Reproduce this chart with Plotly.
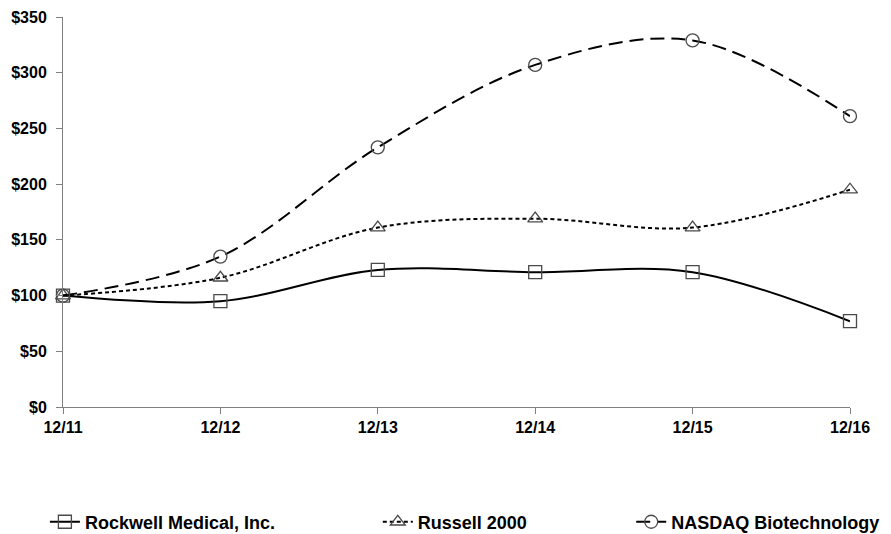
import plotly.graph_objects as go

categories = ["12/11", "12/12", "12/13", "12/14", "12/15", "12/16"]
rockwell = [100, 95, 123, 121, 121, 77]
russell = [100, 116, 161, 169, 161, 195]
nasdaq = [100, 135, 233, 307, 329, 261]
y_ticks = [0, 50, 100, 150, 200, 250, 300, 350]
y_tick_labels = ["$0", "$50", "$100", "$150", "$200", "$250", "$300", "$350"]

x_pos = list(range(len(categories)))
FONT = "Liberation Sans, Arial, sans-serif"

fig = go.Figure()
series = [
    ("Rockwell Medical, Inc.", rockwell, "solid", "square-open", "legend"),
    ("Russell 2000", russell, "4px,3px", "triangle-up-open", "legend2"),
    ("NASDAQ Biotechnology", nasdaq, "14px,7px", "circle-open", "legend3"),
]
for name, vals, dash, sym, leg in series:
    fig.add_trace(go.Scatter(
        x=x_pos, y=vals, name=name, mode="lines+markers",
        line=dict(color="#000000", width=2, dash=dash, shape="spline", smoothing=1),
        marker=dict(symbol=sym, size=13, color="#4a4a4a", line=dict(width=1.3, color="#4a4a4a")),
        cliponaxis=False, legend=leg,
    ))

legend_common = dict(
    orientation="h", yanchor="middle", y=-0.295, xanchor="left",
    font=dict(family=FONT, size=18, color="#000000", weight="bold"),
    bgcolor="rgba(0,0,0,0)", borderwidth=0,
)
# the page adds an 8px body margin, so the figure is 883x526 and offset by 8px
fig.update_layout(
    width=883, height=526,
    margin=dict(l=55, r=41, t=9, b=127, autoexpand=False),
    paper_bgcolor="white", plot_bgcolor="white",
    showlegend=True,
    legend=dict(x=-0.023, **legend_common),
    legend2=dict(x=0.400, **legend_common),
    legend3=dict(x=0.722, **legend_common),
    xaxis=dict(
        range=[0, 5], tickmode="array", tickvals=x_pos, ticktext=categories,
        showgrid=False, zeroline=False, showline=True, linecolor="#808080", linewidth=1,
        ticks="outside", ticklen=6, tickcolor="#808080", automargin=False,
        ticklabeloverflow="allow",
        tickfont=dict(family=FONT, size=16, color="#000000", weight="bold"),
    ),
    yaxis=dict(
        range=[0, 350], tickmode="array", tickvals=y_ticks, ticktext=y_tick_labels,
        showgrid=False, zeroline=False, showline=True, linecolor="#808080", linewidth=1,
        ticks="outside", ticklen=6, tickcolor="#808080", ticklabelstandoff=6, automargin=False,
        ticklabeloverflow="allow",
        tickfont=dict(family=FONT, size=16, color="#000000", weight="bold"),
    ),
)

fig.write_html("out.html")
